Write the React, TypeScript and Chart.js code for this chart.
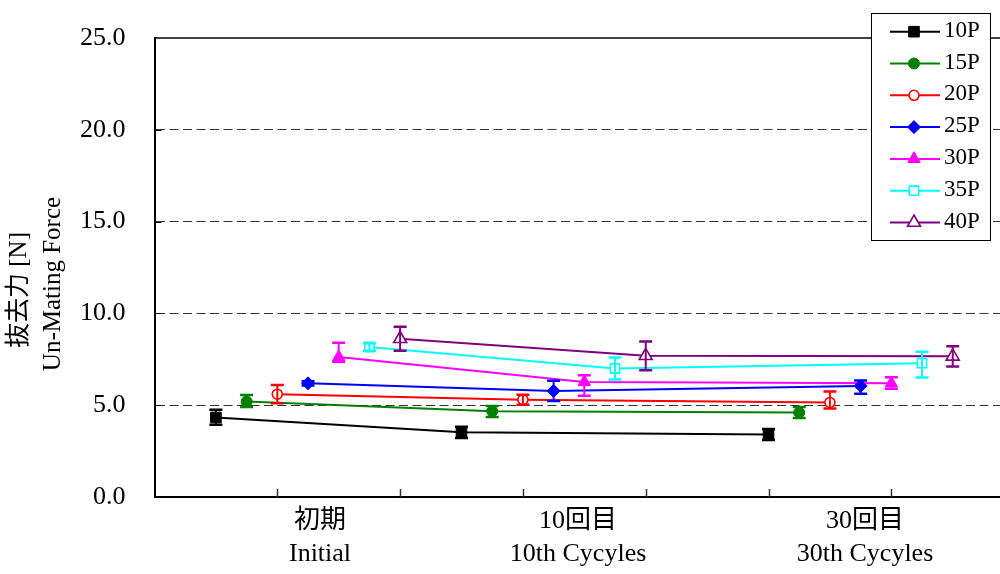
import React, { useEffect, useRef } from 'react';
import { Chart, registerables } from 'chart.js';
import { drawPoint } from 'chart.js/helpers';

Chart.register(...registerables);

// ---------- data ----------
const seriesNames = ['10P', '15P', '20P', '25P', '30P', '35P', '40P'];
const seriesColors = ['#000000', '#008000', '#FF0000', '#0000FF', '#FF00FF', '#00FFFF', '#800080'];

// x position of each measurement (Initial, 10th, 30th) for each series
const xPositions = [
  [0.5, 2.5, 5.0],
  [0.75, 2.75, 5.25],
  [1.0, 3.0, 5.5],
  [1.25, 3.25, 5.75],
  [1.5, 3.5, 6.0],
  [1.75, 3.75, 6.25],
  [2.0, 4.0, 6.5],
];

// un-mating force [N]
const forceValues = [
  [4.33, 3.52, 3.40],
  [5.20, 4.67, 4.60],
  [5.60, 5.30, 5.15],
  [6.19, 5.78, 6.05],
  [7.62, 6.26, 6.19],
  [8.17, 7.00, 7.29],
  [8.62, 7.69, 7.66],
];

// error bars (plus / minus)
const errorPlus = [
  [0.42, 0.30, 0.30],
  [0.35, 0.28, 0.30],
  [0.50, 0.27, 0.60],
  [0.12, 0.55, 0.30],
  [0.78, 0.37, 0.33],
  [0.20, 0.60, 0.62],
  [0.65, 0.78, 0.55],
];
const errorMinus = [
  [0.40, 0.30, 0.30],
  [0.30, 0.31, 0.30],
  [0.50, 0.27, 0.33],
  [0.12, 0.55, 0.42],
  [0.25, 0.74, 0.30],
  [0.20, 0.60, 0.78],
  [0.65, 0.78, 0.55],
];

const categoryPositions = [1.348, 3.449, 5.786];
const categoryLabels = [
  ['初期', 'Initial'],
  ['10回目', '10th Cycyles'],
  ['30回目', '30th Cycyles'],
];
const xTickMarks = [1, 2, 3, 4, 5, 6];
const yMin = 0;
const yMax = 25;
const yStep = 5;
const xMax = 6.885;

const pointStyles = ['rect', 'circle', 'circle', 'rectRot', 'triangle', 'rect', 'triangle'];
const pointRadii = [7.5, 5.5, 5, 6.5, 7.2, 6.5, 7.5];
const pointFilled = [true, true, false, true, true, false, false];

const FONT = "'Liberation Serif', 'Noto Sans CJK JP', serif";

// ---------- plugins ----------
const framePlugin = {
  id: 'frame',
  beforeDatasetsDraw(chart: any) {
    const { ctx, chartArea } = chart;
    const xs = chart.scales.x;
    const ys = chart.scales.y;
    ctx.save();
    ctx.strokeStyle = '#000';
    ctx.lineWidth = 1.5;
    ctx.beginPath();
    ctx.moveTo(chartArea.left, chartArea.top);
    ctx.lineTo(chartArea.right, chartArea.top);
    ctx.stroke();
    ctx.strokeStyle = '#333';
    ctx.lineWidth = 1.5;
    xTickMarks.forEach((v) => {
      const x = Math.round(xs.getPixelForValue(v)) + 0.5;
      ctx.beginPath();
      ctx.moveTo(x, chartArea.bottom);
      ctx.lineTo(x, chartArea.bottom - 8);
      ctx.stroke();
    });
    ctx.strokeStyle = '#000';
    ctx.lineWidth = 1;
    for (let v = yMin + yStep; v < yMax; v += yStep) {
      const y = Math.round(ys.getPixelForValue(v)) + 0.5;
      ctx.beginPath();
      ctx.moveTo(chartArea.left, y);
      ctx.lineTo(chartArea.left + 7, y);
      ctx.stroke();
    }
    ctx.restore();
  },
};

const errorBarPlugin = {
  id: 'errorBars',
  afterDatasetsDraw(chart: any) {
    const { ctx } = chart;
    const ys = chart.scales.y;
    ctx.save();
    chart.data.datasets.forEach((ds: any, i: number) => {
      const meta = chart.getDatasetMeta(i);
      ctx.strokeStyle = ds.borderColor;
      meta.data.forEach((pt: any, j: number) => {
        const x = pt.x;
        const v = forceValues[i][j];
        const yT = ys.getPixelForValue(v + errorPlus[i][j]);
        const yB = ys.getPixelForValue(v - errorMinus[i][j]);
        ctx.lineWidth = 2;
        ctx.beginPath();
        ctx.moveTo(x, yT);
        ctx.lineTo(x, yB);
        ctx.stroke();
        ctx.lineWidth = 2.5;
        ctx.beginPath();
        ctx.moveTo(x - 6.5, yT);
        ctx.lineTo(x + 6.5, yT);
        ctx.moveTo(x - 6.5, yB);
        ctx.lineTo(x + 6.5, yB);
        ctx.stroke();
      });
    });
    ctx.restore();
  },
};

const legendPlugin = {
  id: 'boxLegend',
  afterDraw(chart: any) {
    const { ctx } = chart;
    ctx.save();
    ctx.fillStyle = '#fff';
    ctx.fillRect(871, 13, 120, 228);
    ctx.strokeStyle = '#000';
    ctx.lineWidth = 1;
    ctx.strokeRect(871.5, 13.5, 119, 227);
    chart.data.datasets.forEach((ds: any, i: number) => {
      const y = 31.7 + i * 31.8;
      ctx.strokeStyle = ds.borderColor;
      ctx.lineWidth = 2;
      ctx.beginPath();
      ctx.moveTo(890, y);
      ctx.lineTo(940, y);
      ctx.stroke();
      ctx.fillStyle = ds.pointBackgroundColor;
      ctx.strokeStyle = ds.pointBorderColor;
      ctx.lineWidth = ds.pointBorderWidth;
      drawPoint(
        ctx,
        { pointStyle: ds.pointStyle, radius: ds.pointRadius, rotation: 0, borderWidth: ds.pointBorderWidth } as any,
        914,
        y
      );
      ctx.fillStyle = '#000';
      ctx.font = `23px ${FONT}`;
      ctx.textBaseline = 'middle';
      ctx.textAlign = 'left';
      ctx.fillText(ds.label, 944, y - 1);
    });
    ctx.restore();
  },
};

const yTitlePlugin = {
  id: 'yTitle',
  afterDraw(chart: any) {
    const { ctx } = chart;
    ctx.save();
    ctx.fillStyle = '#000';
    ctx.font = `25px ${FONT}`;
    ctx.textAlign = 'center';
    ctx.textBaseline = 'middle';
    ctx.save();
    ctx.translate(19, 290);
    ctx.rotate(-Math.PI / 2);
    ctx.fillText('抜去力 [N]', 0, 0);
    ctx.restore();
    ctx.save();
    ctx.translate(53, 284);
    ctx.rotate(-Math.PI / 2);
    ctx.fillText('Un-Mating Force', 0, 0);
    ctx.restore();
    ctx.restore();
  },
};

export default function App() {
  const canvasRef = useRef<HTMLCanvasElement | null>(null);

  useEffect(() => {
    if (!canvasRef.current) return;
    const datasets = seriesNames.map((name, i) => ({
      label: name,
      data: xPositions[i].map((x, j) => ({ x, y: forceValues[i][j] })),
      borderColor: seriesColors[i],
      backgroundColor: seriesColors[i],
      borderWidth: 2,
      tension: 0,
      fill: false,
      showLine: true,
      pointStyle: pointStyles[i],
      pointRadius: pointRadii[i],
      pointHoverRadius: pointRadii[i],
      pointBackgroundColor: pointFilled[i] ? seriesColors[i] : '#ffffff',
      pointBorderColor: seriesColors[i],
      pointBorderWidth: pointFilled[i] ? 1 : 1.6,
    }));

    const chart = new Chart(canvasRef.current, {
      type: 'scatter',
      data: { datasets },
      options: {
        animation: false,
        responsive: true,
        maintainAspectRatio: false,
        events: [],
        layout: { autoPadding: false, padding: { top: 38, left: 0, right: 0, bottom: 0 } },
        plugins: {
          legend: { display: false },
          tooltip: { enabled: false },
          title: { display: false },
        },
        scales: {
          x: {
            type: 'linear',
            min: 0,
            max: xMax,
            afterBuildTicks: (s: any) => {
              s.ticks = categoryPositions.map((v) => ({ value: v }));
            },
            afterFit: (s: any) => {
              s.height = 77;
              s.paddingLeft = 0;
              s.paddingRight = 0;
            },
            ticks: {
              autoSkip: false,
              maxRotation: 0,
              minRotation: 0,
              padding: 8,
              color: '#000',
              font: { family: FONT, size: 26, lineHeight: 1.25 },
              callback: (_v: any, i: number) => categoryLabels[i],
            },
            grid: { display: false, drawTicks: false },
            border: { display: true, color: '#000', width: 2 },
          },
          y: {
            type: 'linear',
            min: yMin,
            max: yMax,
            afterFit: (s: any) => {
              s.width = 154.5;
              s.paddingTop = 0;
              s.paddingBottom = 0;
            },
            ticks: {
              stepSize: yStep,
              padding: 29,
              color: '#000',
              font: { family: FONT, size: 26 },
              callback: (v: any) => Number(v).toFixed(1),
            },
            grid: {
              drawTicks: false,
              lineWidth: 1,
              color: (c: any) =>
                c.tick && c.tick.value > yMin && c.tick.value < yMax ? '#333333' : 'rgba(0,0,0,0)',
            },
            border: { display: true, color: '#000', width: 2, dash: [9, 4.5] },
          },
        },
      } as any,
      plugins: [framePlugin, errorBarPlugin, legendPlugin, yTitlePlugin],
    });
    return () => chart.destroy();
  }, []);

  return (
    <div style={{ position: 'absolute', left: 0, top: 0, width: 1000, height: 574, background: '#fff' }}>
      <canvas ref={canvasRef} />
    </div>
  );
}
